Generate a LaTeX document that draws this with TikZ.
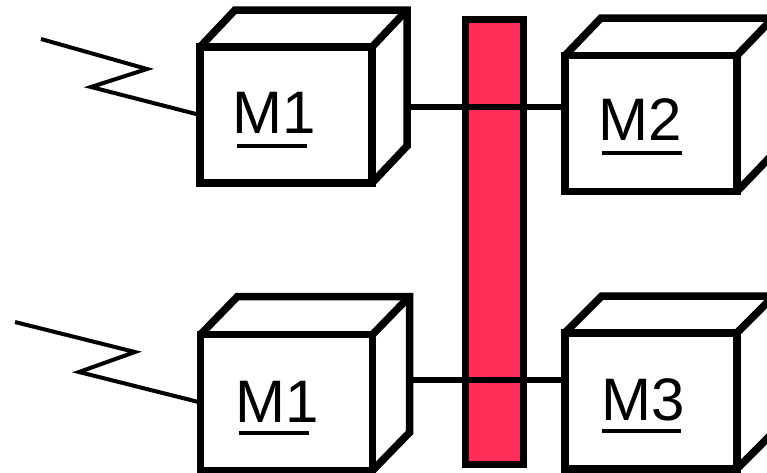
\documentclass[tikz,border=0pt]{standalone}
\usepackage{fontspec}
\setmainfont{Liberation Sans}
\definecolor{barred}{RGB}{255,45,88}
\begin{document}
\begin{tikzpicture}[x=1pt,y=-1pt,
  face/.style={draw, line width=7.5pt, minimum width=172pt, minimum height=136pt, inner sep=0pt, outer sep=0pt, fill=white},
  cubeedge/.style={line width=7.5pt},
  lbl/.style={anchor=base west, inner sep=0pt, outer sep=0pt, font=\fontsize{60}{72}\selectfont},
  uline/.style={line width=4pt},
  conn/.style={line width=6pt},
  zig/.style={line width=4pt},
  busbar/.style={draw, fill=barred, line width=7pt, minimum width=58pt, minimum height=445pt, inner sep=0pt, outer sep=0pt}]
\useasboundingbox (0,0) rectangle (767,472);
\clip (0,0) rectangle (767,472);
\fill[white] (0,0) rectangle (767,472);
% bus bar
\node[busbar] (bar) at (494.5,242) {};
% boxes (front faces)
\node[face] (m1a) at (286,115) {};
\node[face] (m2) at (651,123.5) {};
\node[face] (m1b) at (286.5,402.5) {};
\node[face] (m3) at (650.75,401) {};
% connectors
\coordinate (c1) at ([xshift=36pt,yshift=8pt]m1a.east);
\draw[conn] (c1) -- (c1 -| m2.west);
\coordinate (c2) at ([xshift=37pt,yshift=22.5pt]m1b.east);
\draw[conn] (c2) -- (c2 -| m3.west);
% cube top and side faces
\foreach \m/\dx/\dy in {m1a/35/37, m2/36/37.5, m1b/37/38, m3/37/37} {
  \draw[cubeedge] (\m.north west) -- ++(\dx,-\dy) -- ++(172,0) -- ++(0,136) -- (\m.south east);
  \draw[cubeedge] ([shift={(\dx,-\dy)}]\m.north east) -- (\m.north east);
}
% labels
\node[lbl] (t1) at ([shift={(32.6,86)}]m1a.north west) {M1};
\node[lbl] (t2) at ([shift={(33.5,84.5)}]m2.north west) {M2};
\node[lbl] (t3) at ([shift={(35,87.5)}]m1b.north west) {M1};
\node[lbl] (t4) at ([shift={(36.75,87)}]m3.north west) {M3};
\draw[uline] ([shift={(4.4,13)}]t1.base west) -- ++(70,0);
\draw[uline] ([shift={(3.5,12.5)}]t2.base west) -- ++(80,0);
\draw[uline] ([shift={(3,11)}]t3.base west) -- ++(70,0);
\draw[uline] ([shift={(0.5,11)}]t4.base west) -- ++(79,0);
% zigzag links
\coordinate (z1) at (41,39);
\draw[zig] (z1) -- (147,69) -- (91,87) -- (m1a.west);
\coordinate (z2) at (15,322);
\draw[zig] (z2) -- (135,352) -- (79,372) -- (m1b.west);
\end{tikzpicture}
\end{document}
